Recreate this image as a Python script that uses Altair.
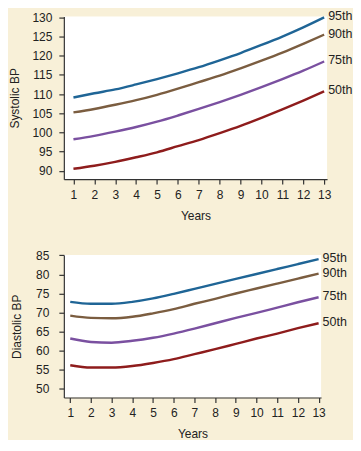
import altair as alt
import pandas as pd

years = list(range(1, 14))
series = ["95th", "90th", "75th", "50th"]
colors = ["#1f6596", "#7b5d40", "#7a50a0", "#8e1c1c"]

sys_95 = [109.1, 110.2, 111.2, 112.5, 113.9, 115.4, 117.0, 118.8, 120.7, 122.8, 125.0, 127.4, 130.0]
sys_90 = [105.2, 106.1, 107.2, 108.4, 109.8, 111.4, 113.1, 114.8, 116.7, 118.7, 120.8, 123.1, 125.5]
sys_75 = [98.2, 99.1, 100.2, 101.4, 102.8, 104.4, 106.1, 107.9, 109.8, 111.8, 113.9, 116.1, 118.5]
sys_50 = [90.5, 91.3, 92.3, 93.5, 94.8, 96.4, 98.0, 99.8, 101.7, 103.8, 106.0, 108.3, 110.7]

dia_95 = [72.8, 72.3, 72.3, 72.8, 73.7, 74.9, 76.2, 77.5, 78.8, 80.1, 81.4, 82.7, 84.0]
dia_90 = [69.2, 68.6, 68.5, 68.9, 69.8, 70.9, 72.3, 73.6, 75.0, 76.3, 77.6, 78.9, 80.2]
dia_75 = [63.2, 62.3, 62.1, 62.6, 63.4, 64.5, 65.8, 67.2, 68.6, 69.9, 71.3, 72.7, 74.0]
dia_50 = [56.2, 55.6, 55.6, 56.0, 56.8, 57.8, 59.1, 60.4, 61.8, 63.2, 64.5, 65.9, 67.2]

sys_ticks = [90, 95, 100, 105, 110, 115, 120, 125, 130]
dia_ticks = [50, 55, 60, 65, 70, 75, 80, 85]


def make_df(vals):
    rows = []
    for name, v in zip(series, vals):
        for x, y in zip(years, v):
            rows.append({"year": x, "value": y, "series": name})
    return pd.DataFrame(rows)


sys_df = make_df([sys_95, sys_90, sys_75, sys_50])
dia_df = make_df([dia_95, dia_90, dia_75, dia_50])

color = alt.Color("series:N", scale=alt.Scale(domain=series, range=colors), legend=None)


def panel(df, title, ydom, yticks, xdom, w, h, lpad, tpad):
    x = alt.X("year:Q", scale=alt.Scale(domain=xdom, nice=False, zero=False),
              axis=alt.Axis(values=years, title="Years", labelPadding=5, titlePadding=10,
                            labelOverlap=False))
    y = alt.Y("value:Q", scale=alt.Scale(domain=ydom, nice=False, zero=False),
              axis=alt.Axis(values=yticks, title=title, labelPadding=lpad, titlePadding=tpad,
                            labelOverlap=False))
    base = alt.Chart(df).encode(x=x, y=y)
    lines = base.mark_line(strokeWidth=2.4, interpolate="monotone").encode(color=color)
    labels = base.transform_filter(alt.datum.year == 13).mark_text(
        align="left", baseline="middle", dx=4, dy=-1, fontSize=12.5,
        font="Liberation Sans", color="#222222").encode(text="series:N")
    return alt.layer(lines, labels).properties(width=w, height=h)


top = panel(sys_df, "Systolic BP", [87.8, 130.2], sys_ticks, [0.54, 13.14], 264, 163, 7, 10)
bottom = panel(dia_df, "Diastolic BP", [47.75, 85.1], dia_ticks, [0.69, 13.12], 258, 143, 10, 12)

chart = alt.vconcat(top, bottom, spacing=28).properties(
    background="#f8f0d8",
    padding={"left": 0, "top": 1, "right": 0, "bottom": 0},
).configure_view(fill="white", stroke=None).configure_axis(
    grid=False, domainColor="#333333", tickColor="#333333", tickSize=5,
    labelFont="Liberation Sans", titleFont="Liberation Sans",
    labelFontSize=12, titleFontSize=12, labelColor="#222222", titleColor="#222222",
    titleFontWeight="normal", domainWidth=1.2, tickWidth=1.2,
)

chart.save("out.html", embed_options={"renderer": "svg", "actions": False})
